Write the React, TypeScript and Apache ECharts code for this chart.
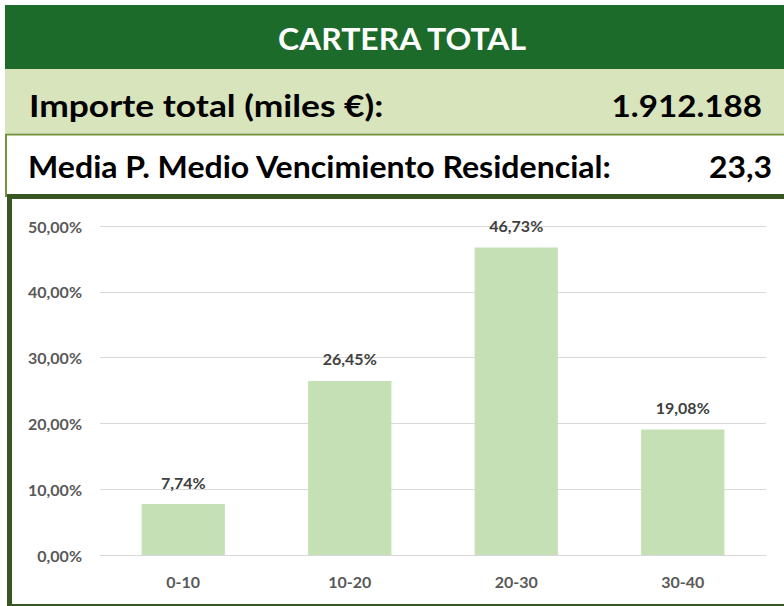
import React, { useEffect, useRef } from "react";
import * as echarts from "echarts";

const categories = ["0-10", "10-20", "20-30", "30-40"];
const shares = [7.74, 26.45, 46.73, 19.08];
const yTicks = { min: 0, max: 50, interval: 10 };
const headerTitle = "CARTERA TOTAL";
const totalLabel = "Importe total (miles €):";
const totalValue = "1.912.188";
const maturityLabel = "Media P. Medio Vencimiento Residencial:";
const maturityValue = "23,3";

const FONT = "Lato, 'Open Sans', sans-serif";
const fmt = (v: number) => v.toFixed(2).replace(".", ",") + "%";

function headText(text: string, x: number, y: number, align: string, sx: number, fill = "#000000") {
  return {
    type: "text",
    z: 2,
    x,
    y,
    scaleX: sx,
    style: { text, fill, font: `bold 31px ${FONT}`, textAlign: align, textVerticalAlign: "middle" },
  };
}

export default function App() {
  const ref = useRef<HTMLDivElement>(null);
  useEffect(() => {
    document.body.style.margin = "0";
    const chart = echarts.init(ref.current!, null, { renderer: "svg" });
    chart.setOption({
      animation: false,
      backgroundColor: "#ffffff",
      textStyle: { fontFamily: FONT },
      graphic: [
        { type: "rect", z: 0, shape: { x: 5, y: 5, width: 779, height: 64 }, style: { fill: "#1c6b2a" } },
        { type: "rect", z: 0, shape: { x: 5, y: 69, width: 779, height: 64 }, style: { fill: "#d8e4bc" } },
        { type: "line", z: 1, shape: { x1: 5, y1: 134.5, x2: 784, y2: 134.5 }, style: { stroke: "#76923c", lineWidth: 2 } },
        { type: "line", z: 1, shape: { x1: 6, y1: 134, x2: 6, y2: 197 }, style: { stroke: "#76923c", lineWidth: 2 } },
        { type: "rect", z: 1, shape: { x: 9.5, y: 196.5, width: 800, height: 410 }, style: { fill: "none", stroke: "#375623", lineWidth: 5 } },
        headText(headerTitle, 402, 38, "center", 1.03, "#ffffff"),
        headText(totalLabel, 29, 105, "left", 1.14),
        headText(totalValue, 762, 105, "right", 1.07),
        headText(maturityLabel, 28, 166, "left", 1.035),
        headText(maturityValue, 772, 166, "right", 1.03),
      ],
      grid: { left: 100, right: 18, top: 226, bottom: 51, containLabel: false },
      xAxis: {
        type: "category",
        data: categories,
        axisLine: { show: true, lineStyle: { color: "#d9d9d9", width: 1 } },
        axisTick: { show: false },
        axisLabel: { color: "#595959", fontWeight: "bold", fontSize: 16, margin: 18, fontFamily: FONT },
      },
      yAxis: {
        type: "value",
        min: yTicks.min,
        max: yTicks.max,
        interval: yTicks.interval,
        axisLine: { show: false },
        axisTick: { show: false },
        splitLine: { lineStyle: { color: "#d9d9d9", width: 1 } },
        axisLabel: { color: "#595959", fontWeight: "bold", fontSize: 16, margin: 18, fontFamily: FONT, formatter: (v: number) => fmt(v) },
      },
      series: [
        {
          type: "bar",
          data: shares,
          barWidth: "50%",
          itemStyle: { color: "#c5e0b4" },
          label: {
            show: true,
            position: "top",
            distance: 14,
            color: "#404040",
            fontWeight: "bold",
            fontSize: 16,
            fontFamily: FONT,
            formatter: (p: any) => fmt(p.value),
          },
        },
      ],
    });
    return () => chart.dispose();
  }, []);
  return <div ref={ref} style={{ width: 784, height: 606 }} />;
}
